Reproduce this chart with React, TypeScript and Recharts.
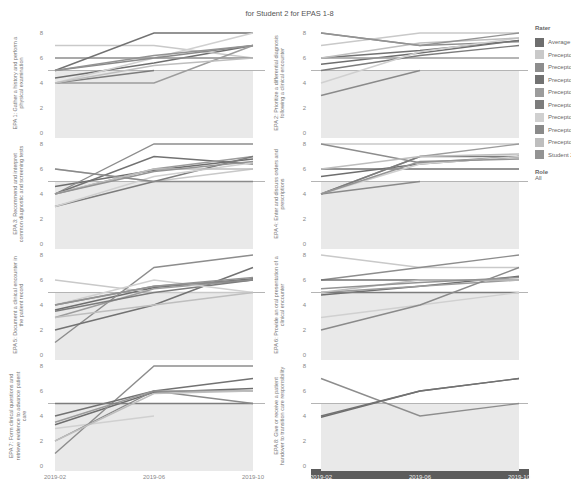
import React from 'react'
import {
  LineChart,
  Line,
  XAxis,
  YAxis,
  ReferenceArea,
  ReferenceLine,
} from 'recharts'

const dates = ['2019-02', '2019-06', '2019-10']

const raters = [
  'Average',
  'Preceptor A',
  'Preceptor B',
  'Preceptor C',
  'Preceptor D',
  'Preceptor E',
  'Preceptor F',
  'Preceptor G',
  'Preceptor H',
  'Student 2',
]

// grey shades taken from the legend swatches
const raterColors = [
  '#6e6e6e',
  '#c9c9c9',
  '#8d8d8d',
  '#727272',
  '#9c9c9c',
  '#7c7c7c',
  '#d0d0d0',
  '#8a8a8a',
  '#bebebe',
  '#939393',
]

type Series = (number | null)[][]

// one row per rater (same order as raters), one value per date
const epa1: Series = [
  [4.4, 5.6, 7],
  [7, 7, 6],
  [6, 6, 6],
  [5, 8, 8],
  [4, 4, 7],
  [4, 5, null],
  [4, 6, 8],
  [5, 6, 7],
  [4, 5.4, 6],
  [5, 6.2, 7],
]

const epa2: Series = [
  [5.5, 6.4, 7.4],
  [7, 8, 8],
  [8, 7, 7.3],
  [6, 6.6, 7.4],
  [6, 6, 6],
  [5, 6.2, 7],
  [4, 6.5, 7.6],
  [3, 5, null],
  [6, 7.2, 7.6],
  [8, 7, 8],
]

const epa3: Series = [
  [4.6, 5.9, 6.8],
  [6, 5, 6],
  [4, 8, 8],
  [4, 7, 6.4],
  [4, 6, 7],
  [3, 5, 7],
  [3, 5.4, 6.5],
  [6, 5, 5],
  [4, 6, 6],
  [4, 5.8, 6.6],
]

const epa4: Series = [
  [5.4, 6.4, 7],
  [8, 8, 8],
  [8, 6.5, 7],
  [6, 6, 6],
  [4, 7, 8],
  [4, 7, 7],
  [4, 6.4, 7],
  [4, 5, null],
  [6, 7, 7.2],
  [4, 6.6, 6.8],
]

const epa5: Series = [
  [3.6, 5.4, 6.1],
  [6, 5, 5],
  [1, 7, 8],
  [2, 4, 7],
  [3, 5.3, 6],
  [3.5, 5, 6],
  [4, 6, 5],
  [4, 5.5, 6],
  [3, 4, 5],
  [4, 5.5, 6.2],
]

const epa6: Series = [
  [4.8, 5.5, 6.3],
  [8, 7, 7],
  [6, 7, 8],
  [6, 6, 6],
  [5, 5.5, 6],
  [5, 5, 5],
  [3, 4, 5],
  [2, 4, 7],
  [5, 6, 6],
  [5.3, 5.8, 6.2],
]

const epa7: Series = [
  [3.3, 5.9, 6.2],
  [null, null, null],
  [1, 8, 8],
  [4, 6, 7],
  [3.5, 6, 6],
  [5, 5, 5],
  [3, 4, null],
  [2, 6, 5],
  [2, 5.8, 6],
  [null, null, null],
]

const epa8: Series = [
  [3.9, 6, 7],
  [null, null, null],
  [7, 4, 5],
  [4, 6, 7],
  [null, null, null],
  [null, null, null],
  [null, null, null],
  [null, null, null],
  [null, null, null],
  [null, null, null],
]

const epaLabels = [
  'EPA 1: Gather a history and perform a physical examination',
  'EPA 2: Prioritize a differential diagnosis following a clinical encounter',
  'EPA 3: Recommend and interpret common diagnostic and screening tests',
  'EPA 4: Enter and discuss orders and prescriptions',
  'EPA 5: Document a clinical encounter in the patient record',
  'EPA 6: Provide an oral presentation of a clinical encounter',
  'EPA 7: Form clinical questions and retrieve evidence to advance patient care',
  'EPA 8: Give or receive a patient handover to transition care responsibility',
]

const yTicks = [0, 2, 4, 6, 8]

const toRows = (series: Series) =>
  dates.map((d, i) => {
    const row: Record<string, any> = { date: d }
    raters.forEach((r, j) => {
      row[r] = series[j][i]
    })
    return row
  })

const ROW_TOPS = [28, 139, 250, 361]
const PLOT_H = 110

interface PanelProps {
  series: Series
  col: number
  row: number
  label: string
}

const Panel: React.FC<PanelProps> = ({ series, col, row, label }) => {
  const showX = row === 3
  const left = col === 0 ? 30 : 293
  const top = ROW_TOPS[row]
  const dark = col === 1
  return (
    <>
      {showX && dark && (
        <div
          style={{
            position: 'absolute',
            left: 311,
            top: 469,
            width: 218,
            height: 18,
            background: '#5c5c5c',
          }}
        />
      )}
      <div
        style={{
          position: 'absolute',
          left: col === 0 ? 18 - 50 : 279 - 50,
          top: top + PLOT_H / 2 - 10,
          width: 100,
          height: 20,
          transform: 'rotate(-90deg)',
          fontSize: 5.5,
          lineHeight: '6.5px',
          color: '#777',
          textAlign: 'center',
          display: 'flex',
          alignItems: 'center',
          justifyContent: 'center',
        }}
      >
        {label}
      </div>
      <div style={{ position: 'absolute', left, top }}>
        <LineChart
          width={240}
          height={showX ? PLOT_H + 16 : PLOT_H}
          data={toRows(series)}
          margin={{ top: 0, right: 5, left: 0, bottom: 0 }}
        >
          <ReferenceArea y1={-0.4} y2={5} fill="#e9e9e9" fillOpacity={1} stroke="none" />
          <ReferenceLine y={5} stroke="#b4b4b4" strokeWidth={1} />
          <XAxis
            dataKey="date"
            hide={!showX}
            height={16}
            padding={col === 0 ? { left: 7, right: 12 } : { left: 10, right: 9 }}
            axisLine={false}
            tickLine={false}
            tickSize={2}
            tick={{ fontSize: 6, fill: dark ? '#f2f2f2' : '#888' }}
          />
          <YAxis
            type="number"
            domain={[-0.4, 8.4]}
            ticks={yTicks}
            width={18}
            axisLine={false}
            tickLine={false}
            tickSize={3}
            tickMargin={2}
            tick={{ fontSize: 6, fill: '#888' }}
          />
          {raters.map((r, j) => (
            <Line
              key={r}
              dataKey={r}
              stroke={raterColors[j]}
              strokeWidth={1.4}
              dot={false}
              isAnimationActive={false}
            />
          ))}
        </LineChart>
      </div>
    </>
  )
}

const panels = [epa1, epa2, epa3, epa4, epa5, epa6, epa7, epa8]

const App: React.FC = () => {
  return (
    <div
      style={{
        position: 'relative',
        width: 579,
        height: 487,
        margin: -8,
        background: '#fff',
        overflow: 'hidden',
        fontFamily: '"Liberation Sans", Arial, sans-serif',
      }}
    >
      <div
        style={{
          position: 'absolute',
          top: 9,
          left: 0,
          width: 579,
          textAlign: 'center',
          fontSize: 7.5,
          color: '#555',
        }}
      >
        for Student 2 for EPAS 1-8
      </div>
      {panels.map((s, i) => (
        <Panel key={i} series={s} col={i % 2} row={Math.floor(i / 2)} label={epaLabels[i]} />
      ))}
      <div style={{ position: 'absolute', left: 535, top: 25, fontSize: 6, color: '#666' }}>
        <div style={{ fontWeight: 'bold', height: 11 }}>Rater</div>
        {raters.map((r, j) => (
          <div
            key={r}
            style={{ display: 'flex', alignItems: 'center', height: 12.5, whiteSpace: 'nowrap' }}
          >
            <span
              style={{
                display: 'inline-block',
                width: 9,
                height: 9,
                background: raterColors[j],
                marginRight: 4,
              }}
            />
            {r}
          </div>
        ))}
        <div style={{ fontWeight: 'bold', marginTop: 8 }}>Role</div>
        <div>All</div>
      </div>
    </div>
  )
}

export default App
